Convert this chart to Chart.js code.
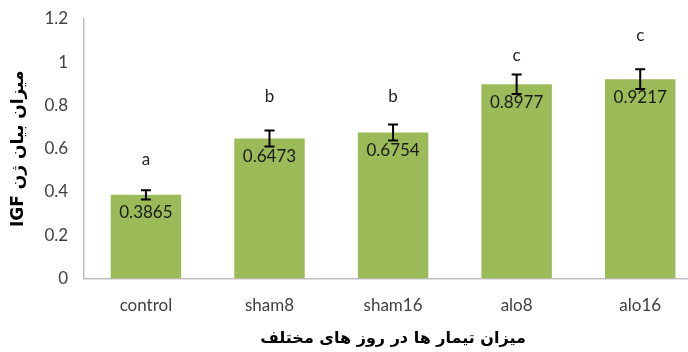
<!DOCTYPE html>
<html>
<head>
<meta charset="utf-8">
<script src="https://cdn.jsdelivr.net/npm/chart.js@4"></script>
<style>
    html, body { margin: 0; padding: 0; background: #fff; overflow: hidden; }
    #holder { width: 702px; height: 352px; }
</style>
</head>
<body>
<div id="holder"><canvas id="chart"></canvas></div>
<script>
const groups = ['control', 'sham8', 'sham16', 'alo8', 'alo16'];
const means = [0.3865, 0.6473, 0.6754, 0.8977, 0.9217];
const errors = [0.021, 0.037, 0.037, 0.045, 0.046];
const letters = ['a', 'b', 'b', 'c', 'c'];
const letterAt = [0.55, 0.84, 0.84, 1.03, 1.125];
const yTicks = [0, 0.2, 0.4, 0.6, 0.8, 1, 1.2];

// RLI ... PDI so the mixed Persian/Latin title keeps right-to-left order
const yTitle = '\u2067میزان بیان ژن IGF\u2069';
const xTitle = 'میزان تیمار ها در روز های مختلف';

// error bars, value labels and group letters
const extras = {
    id: 'extras',
    afterDatasetsDraw(chart) {
        const ctx = chart.ctx;
        const x = chart.scales.x;
        const y = chart.scales.y;
        ctx.save();
        means.forEach((m, i) => {
            const cx = x.getPixelForValue(i);
            const top = y.getPixelForValue(m + errors[i]);
            const bot = y.getPixelForValue(m - errors[i]);
            ctx.strokeStyle = '#000';
            ctx.lineWidth = 2;
            ctx.beginPath();
            ctx.moveTo(cx, top); ctx.lineTo(cx, bot);
            ctx.moveTo(cx - 5, top); ctx.lineTo(cx + 5, top);
            ctx.moveTo(cx - 5, bot); ctx.lineTo(cx + 5, bot);
            ctx.stroke();

            ctx.fillStyle = '#1a1a1a';
            ctx.font = '17px Lato, "DejaVu Sans", sans-serif';
            ctx.textAlign = 'center';
            ctx.textBaseline = 'middle';
            ctx.fillText(m.toString(), cx, y.getPixelForValue(m) + 18);

            ctx.fillStyle = '#222';
            ctx.fillText(letters[i], cx, y.getPixelForValue(letterAt[i]));
        });
        ctx.restore();
    }
};

const config = {
    type: 'bar',
    data: {
        labels: groups,
        datasets: [{
            data: means,
            backgroundColor: '#9bbb59',
            borderWidth: 0,
            barPercentage: 0.57,
            categoryPercentage: 1
        }]
    },
    options: {
        responsive: true,
        maintainAspectRatio: false,
        animation: false,
        layout: {
            padding: { top: 0, right: 0, left: 6, bottom: 4 }
        },
        plugins: {
            legend: { display: false },
            tooltip: { enabled: false }
        },
        scales: {
            x: {
                grid: { display: false, drawTicks: false },
                border: { color: '#bfbfbf', width: 1.5 },
                ticks: {
                    color: '#404040',
                    padding: 17,
                    font: { family: 'Lato, "DejaVu Sans", sans-serif', size: 17 }
                },
                title: {
                    display: true,
                    text: xTitle,
                    color: '#000',
                    padding: { top: -4, bottom: 0 },
                    font: { family: '"DejaVu Sans", sans-serif', size: 16, weight: 'bold' }
                }
            },
            y: {
                min: 0,
                max: 1.2,
                afterBuildTicks: (axis) => {
                    axis.ticks = yTicks.map(v => ({ value: v }));
                },
                afterFit: (axis) => {
                    axis.paddingTop = 19;
                },
                grid: { display: false, drawTicks: false },
                border: { color: '#bfbfbf', width: 1.5 },
                ticks: {
                    color: '#404040',
                    padding: 16,
                    font: { family: 'Lato, "DejaVu Sans", sans-serif', size: 17 },
                    callback: (v) => v.toString()
                },
                title: {
                    display: true,
                    text: yTitle,
                    color: '#000',
                    padding: { top: 2, bottom: 0 },
                    font: { family: '"DejaVu Sans", sans-serif', size: 17, weight: 'bold' }
                }
            }
        }
    },
    plugins: [extras]
};

window.onload = () => {
    let ctx = document.getElementById('chart').getContext('2d');
    window.myBars = new Chart(ctx, config);
};
</script>
</body>
</html>
